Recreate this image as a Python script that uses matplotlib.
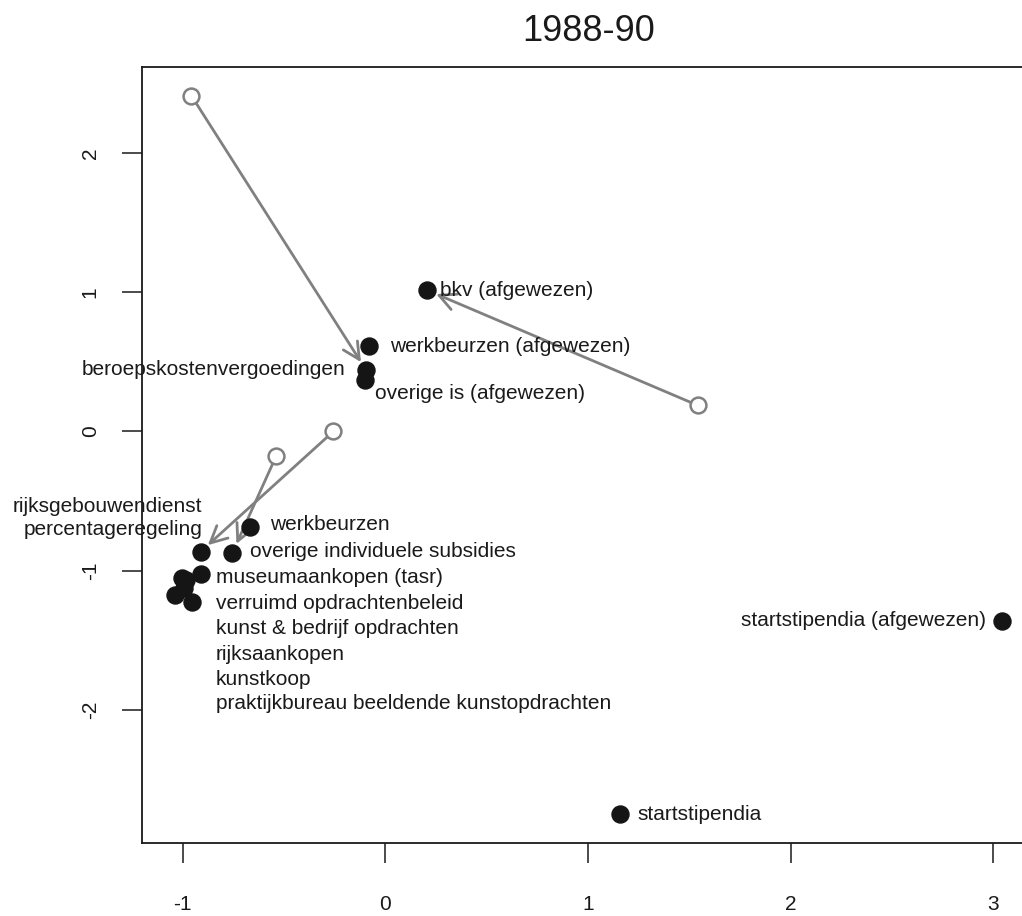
import matplotlib
matplotlib.use("Agg")
import matplotlib.pyplot as plt

plt.rcParams['font.family'] = ['Liberation Sans', 'DejaVu Sans']

# filled points: 1988-90 positions
names = ['bkv (afgewezen)', 'werkbeurzen (afgewezen)', 'beroepskostenvergoedingen',
         'overige is (afgewezen)', 'werkbeurzen', 'rijksgebouwendienst\npercentageregeling',
         'overige individuele subsidies', 'museumaankopen (tasr)', 'verruimd opdrachtenbeleid',
         'kunst & bedrijf opdrachten', 'rijksaankopen', 'kunstkoop',
         'praktijkbureau beeldende kunstopdrachten', 'startstipendia (afgewezen)', 'startstipendia']
xs = [0.207, -0.079, -0.094, -0.099, -0.665, -0.911, -0.754, -0.911, -1.005,
      -0.985, -0.995, -1.039, -0.951, 3.044, 1.158]
ys = [1.014, 0.612, 0.439, 0.367, -0.683, -0.863, -0.871, -1.022, -1.050,
      -1.065, -1.122, -1.173, -1.223, -1.360, -2.748]

# open points: earlier positions, with arrow to the index of the new point
old_x = [-0.956, 1.542, -0.256, -0.537]
old_y = [2.410, 0.187, 0.000, -0.173]
old_to = [2, 0, 5, 6]

# label placement (data coords) and alignment
lab_x = [0.271, 0.025, -0.197, -0.049, -0.567, -0.901, -0.665, -0.837, -0.837,
         -0.837, -0.837, -0.837, -0.837, 2.961, 1.246]
lab_y = [1.014, 0.612, 0.446, 0.273, -0.669, -0.619, -0.863, -1.050, -1.237,
         -1.417, -1.604, -1.784, -1.950, -1.360, -2.748]
lab_ha = ['left', 'left', 'right', 'left', 'left', 'right', 'left', 'left', 'left',
          'left', 'left', 'left', 'left', 'right', 'left']

W, H = 1022, 916
fig = plt.figure(figsize=(W / 100, H / 100), dpi=100)
ax = fig.add_axes([142 / W, (H - 843) / H, (1036 - 142) / W, (843 - 67) / H])
ax.set_xlim(-1.2, 3.21)
ax.set_ylim(-2.955, 2.617)

gray = '#808080'
ink = '#1a1a1a'

for i in range(len(old_x)):
    j = old_to[i]
    ax.annotate('', xy=(xs[j], ys[j]), xytext=(old_x[i], old_y[i]),
                arrowprops=dict(arrowstyle='->, head_length=0.6, head_width=0.3',
                                color=gray, lw=2.0, shrinkA=6, shrinkB=7,
                                mutation_scale=20))
ax.scatter(old_x, old_y, s=130, facecolor='white', edgecolor=gray, linewidth=1.8, zorder=3)
ax.scatter(xs, ys, s=150, color='#151515', zorder=4)

for i in range(len(names)):
    ax.text(lab_x[i], lab_y[i], names[i], ha=lab_ha[i], va='center',
            fontsize=15, color=ink, multialignment='right' if lab_ha[i] == 'right' else 'left',
            linespacing=1.25)

ax.set_xticks([-1, 0, 1, 2, 3])
ax.set_xticklabels(['-1', '0', '1', '2', '3'])
ax.set_yticks([-2, -1, 0, 1, 2])
ax.set_yticklabels(['-2', '-1', '0', '1', '2'], rotation=90, va='center')
ax.tick_params(axis='both', length=14.4, width=1.1, color=ink, labelsize=15, labelcolor=ink)
ax.tick_params(axis='x', pad=23)
ax.tick_params(axis='y', pad=16)
for sp in ax.spines.values():
    sp.set_linewidth(1.3)
    sp.set_color(ink)

ax.set_title('1988-90', fontsize=26, color=ink, pad=18.7)

fig.savefig('out.png', dpi=100)
